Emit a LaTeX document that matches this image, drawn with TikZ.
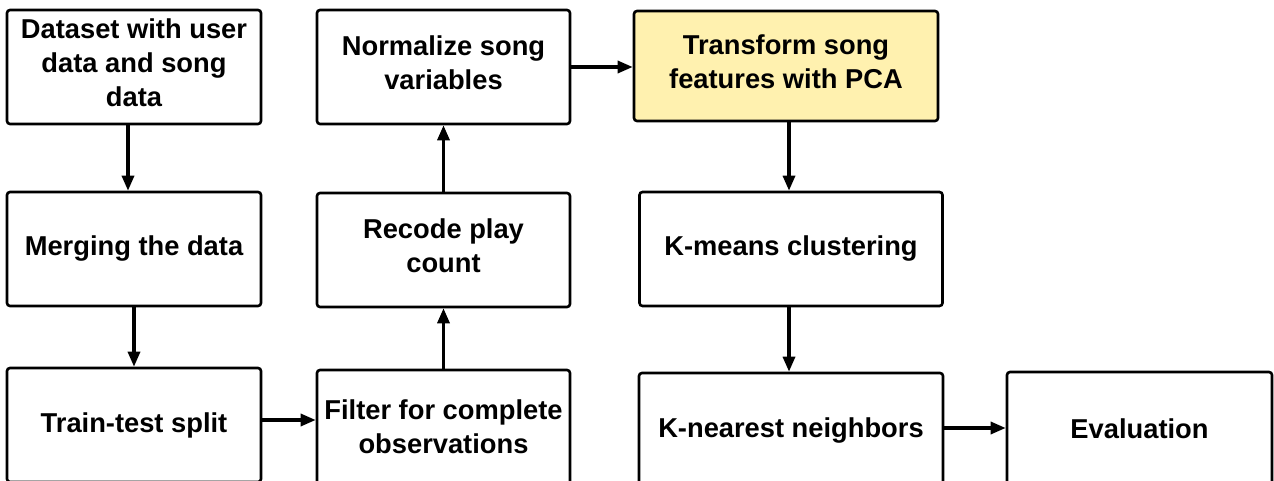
\documentclass[tikz,border=0pt]{standalone}
\usepackage{fontspec}
\setmainfont{Liberation Sans}
\usetikzlibrary{arrows.meta}

\definecolor{pcayellow}{RGB}{255,241,175}

\tikzset{
  stepbox/.style={draw, line width=2.6pt, rounded corners=3pt, align=center,
    minimum height=114pt, inner sep=0pt,
    font=\fontsize{27.3}{34}\selectfont\bfseries},
  raised/.style={text depth=9pt},
  flow/.style={line width=3.2pt, -{Triangle[length=15pt,width=12pt]}}
}

\begin{document}
\begin{tikzpicture}[x=1pt,y=-1pt]
\useasboundingbox (0,0) rectangle (1274,481);

% left column
\node[stepbox, raised, minimum width=254pt] (data)  at (134,67)  {Dataset with user\\data and song\\data};
\node[stepbox, minimum width=254pt] (merge) at (134,249) {Merging the data};
\node[stepbox, minimum width=254pt] (split) at (134,425) {Train-test split};
%
% middle column
\node[stepbox, minimum width=253pt] (filter)    at (443.5,427) {Filter for complete\\observations};
\node[stepbox, raised, minimum width=253pt] (recode)    at (443.5,250) {Recode play\\count};
\node[stepbox, raised, minimum width=253pt] (normalize) at (443.5,67)  {Normalize song\\variables};
%
% right part
\node[stepbox, raised, fill=pcayellow, minimum width=304pt, minimum height=110pt] (pca) at (786,66) {Transform song\\features with PCA};
\node[stepbox, minimum width=303pt] (kmeans) at (791,249)  {K-means clustering};
\node[stepbox, minimum width=304pt] (knn)    at (791,430)  {K-nearest neighbors};
\node[stepbox, minimum width=265pt] (eval)   at (1139.5,429) {Evaluation};

\draw[flow] (data.south -| 128,0) -- (merge.north -| 128,0);
\draw[flow] (merge) -- (split);
\draw[flow] (split.east |- 0,420) -- (filter.west |- 0,420);
\draw[flow] (filter) -- (recode);
\draw[flow] (recode) -- (normalize);
\draw[flow] (normalize) -- (pca.west |- normalize);
\draw[flow] (pca.south -| 789,0) -- (kmeans.north -| 789,0);
\draw[flow] (kmeans.south -| 789,0) -- (knn.north -| 789,0);
\draw[flow] (knn.east |- 0,428) -- (eval.west |- 0,428);
\end{tikzpicture}
\end{document}
